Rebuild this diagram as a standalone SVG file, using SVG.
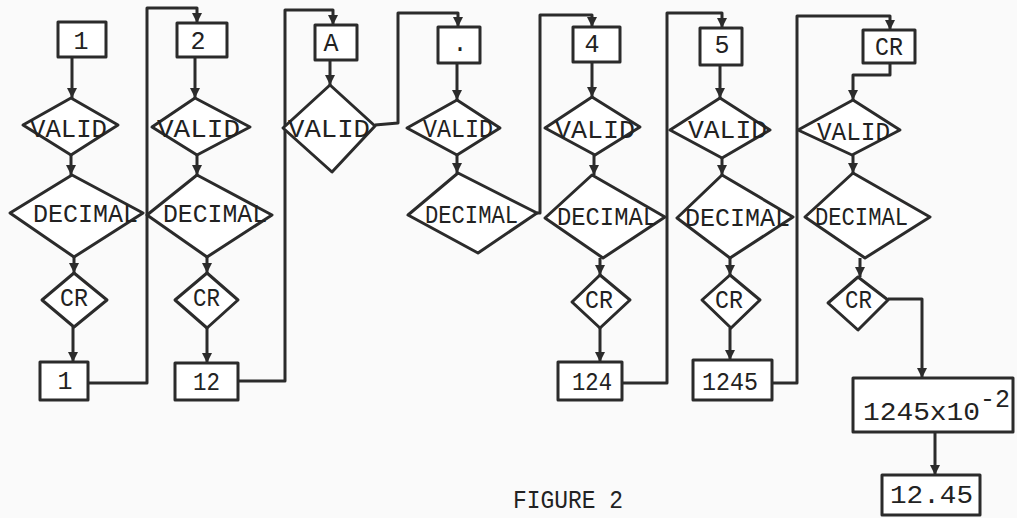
<svg xmlns="http://www.w3.org/2000/svg" width="1017" height="518" viewBox="0 0 1017 518">
<style>
.s{fill:#fff;stroke:#2b2b2b;stroke-width:3;stroke-linejoin:round}
.c{fill:none;stroke:#2b2b2b;stroke-width:3;stroke-linejoin:round}
text{font-family:"Liberation Mono","Courier New",monospace;fill:#222;font-size:25px}
.m{text-anchor:middle}
</style>
<defs>
<marker id="arr" viewBox="0 0 10 10" refX="10" refY="5" markerWidth="11" markerHeight="10" markerUnits="userSpaceOnUse" orient="auto">
<path d="M0,0 L10,5 L0,10 z" fill="#2b2b2b"/>
</marker>
</defs>
<rect width="1017" height="518" fill="#fafafa"/>

<g id="connectors">
<!-- column 1 -->
<path class="c" d="M72,57 V98" marker-end="url(#arr)"/>
<path class="c" d="M71,155 V175" marker-end="url(#arr)"/>
<path class="c" d="M74,257 V273" marker-end="url(#arr)"/>
<path class="c" d="M73,327 V362" marker-end="url(#arr)"/>
<path class="c" d="M88,383 H147 V8 H197 V23" marker-end="url(#arr)"/>
<!-- column 2 -->
<path class="c" d="M195,57 V98" marker-end="url(#arr)"/>
<path class="c" d="M197,155 V175" marker-end="url(#arr)"/>
<path class="c" d="M207,257 V273" marker-end="url(#arr)"/>
<path class="c" d="M207,328 V363" marker-end="url(#arr)"/>
<path class="c" d="M238,381 H285 V10 H333 V25" marker-end="url(#arr)"/>
<!-- column 3 -->
<path class="c" d="M330,60 V85" marker-end="url(#arr)"/>
<path class="c" d="M375,125 L398,123 V13 H458 V27" marker-end="url(#arr)"/>
<!-- column 4 -->
<path class="c" d="M457,63 V100" marker-end="url(#arr)"/>
<path class="c" d="M457,155 V173" marker-end="url(#arr)"/>
<path class="c" d="M537,213 H540 V15 H592 V27" marker-end="url(#arr)"/>
<!-- column 5 -->
<path class="c" d="M592,62 V97" marker-end="url(#arr)"/>
<path class="c" d="M594,155 V175" marker-end="url(#arr)"/>
<path class="c" d="M600,258 V275" marker-end="url(#arr)"/>
<path class="c" d="M600,328 V362" marker-end="url(#arr)"/>
<path class="c" d="M622,383 H667 V13 H722 V28" marker-end="url(#arr)"/>
<!-- column 6 -->
<path class="c" d="M720,65 V98" marker-end="url(#arr)"/>
<path class="c" d="M722,158 V175" marker-end="url(#arr)"/>
<path class="c" d="M730,258 V275" marker-end="url(#arr)"/>
<path class="c" d="M730,328 V360" marker-end="url(#arr)"/>
<path class="c" d="M772,383 H797 V16 H890 V30" marker-end="url(#arr)"/>
<!-- column 7 -->
<path class="c" d="M890,63 V75 H853 V100" marker-end="url(#arr)"/>
<path class="c" d="M853,155 V173" marker-end="url(#arr)"/>
<path class="c" d="M860,258 V277" marker-end="url(#arr)"/>
<path class="c" d="M888,299 H922 V378" marker-end="url(#arr)"/>
<path class="c" d="M935,432 V475" marker-end="url(#arr)"/>
</g>

<!-- column 1 -->
<g id="in1"><rect class="s" x="58" y="22" width="48" height="35"/><text class="m" x="81" y="49">1</text></g>
<g id="valid1"><polygon class="s" points="23,125 71,98 118,125 71,155"/><text x="30" y="137" textLength="77" lengthAdjust="spacingAndGlyphs">VALID</text></g>
<g id="decimal1"><polygon class="s" points="10,213 72,175 143,213 74,257"/><text x="33" y="222" textLength="105" lengthAdjust="spacingAndGlyphs">DECIMAL</text></g>
<g id="cr1"><polygon class="s" points="42,300 74,273 107,300 74,327"/><text x="60" y="306" textLength="28" lengthAdjust="spacingAndGlyphs">CR</text></g>
<g id="out1"><rect class="s" x="40" y="362" width="48" height="38"/><text class="m" x="65" y="389">1</text></g>

<!-- column 2 -->
<g id="in2"><rect class="s" x="177" y="23" width="50" height="34"/><text class="m" x="198" y="49">2</text></g>
<g id="valid2"><polygon class="s" points="152,127 195,98 250,127 197,155"/><text x="157" y="137" textLength="83" lengthAdjust="spacingAndGlyphs">VALID</text></g>
<g id="decimal2"><polygon class="s" points="147,215 197,175 272,215 207,257"/><text x="163" y="222" textLength="104" lengthAdjust="spacingAndGlyphs">DECIMAL</text></g>
<g id="cr2"><polygon class="s" points="175,300 207,273 238,300 207,328"/><text x="193" y="306" textLength="27" lengthAdjust="spacingAndGlyphs">CR</text></g>
<g id="out2"><rect class="s" x="175" y="363" width="63" height="37"/><text x="193" y="390" textLength="27" lengthAdjust="spacingAndGlyphs">12</text></g>

<!-- column 3 -->
<g id="in3"><rect class="s" x="315" y="25" width="42" height="35"/><text class="m" x="331" y="51">A</text></g>
<g id="valid3"><polygon class="s" points="283,128 330,85 375,126 332,172"/><text x="288" y="137" textLength="82" lengthAdjust="spacingAndGlyphs">VALID</text></g>

<!-- column 4 -->
<g id="in4"><rect class="s" x="438" y="27" width="42" height="36"/><text class="m" x="460" y="51">.</text></g>
<g id="valid4"><polygon class="s" points="407,128 457,100 500,128 457,155"/><text x="423" y="137" textLength="70" lengthAdjust="spacingAndGlyphs">VALID</text></g>
<g id="decimal4"><polygon class="s" points="408,215 458,173 537,213 478,253"/><text x="425" y="223" textLength="93" lengthAdjust="spacingAndGlyphs">DECIMAL</text></g>

<!-- column 5 -->
<g id="in5"><rect class="s" x="573" y="27" width="47" height="35"/><text class="m" x="592" y="52">4</text></g>
<g id="valid5"><polygon class="s" points="545,128 592,97 640,127 595,155"/><text x="555" y="138" textLength="80" lengthAdjust="spacingAndGlyphs">VALID</text></g>
<g id="decimal5"><polygon class="s" points="545,218 592,175 665,217 603,258"/><text x="557" y="225" textLength="100" lengthAdjust="spacingAndGlyphs">DECIMAL</text></g>
<g id="cr5"><polygon class="s" points="572,302 600,275 630,300 600,328"/><text x="585" y="308" textLength="28" lengthAdjust="spacingAndGlyphs">CR</text></g>
<g id="out5"><rect class="s" x="558" y="362" width="64" height="38"/><text x="572" y="390" textLength="40" lengthAdjust="spacingAndGlyphs">124</text></g>

<!-- column 6 -->
<g id="in6"><rect class="s" x="700" y="28" width="42" height="37"/><text class="m" x="722" y="53">5</text></g>
<g id="valid6"><polygon class="s" points="670,130 720,98 770,130 722,158"/><text x="688" y="138" textLength="79" lengthAdjust="spacingAndGlyphs">VALID</text></g>
<g id="decimal6"><polygon class="s" points="677,218 722,175 793,217 730,258"/><text x="685" y="226" textLength="105" lengthAdjust="spacingAndGlyphs">DECIMAL</text></g>
<g id="cr6"><polygon class="s" points="702,300 730,275 760,300 731,328"/><text x="715" y="308" textLength="28" lengthAdjust="spacingAndGlyphs">CR</text></g>
<g id="out6"><rect class="s" x="693" y="360" width="79" height="40"/><text x="702" y="390" textLength="56" lengthAdjust="spacingAndGlyphs">1245</text></g>

<!-- column 7 -->
<g id="in7"><rect class="s" x="863" y="30" width="52" height="33"/><text x="875" y="55" textLength="28" lengthAdjust="spacingAndGlyphs">CR</text></g>
<g id="valid7"><polygon class="s" points="798,130 853,100 900,130 852,155"/><text x="817" y="140" textLength="73" lengthAdjust="spacingAndGlyphs">VALID</text></g>
<g id="decimal7"><polygon class="s" points="805,217 853,173 930,217 865,258"/><text x="815" y="225" textLength="93" lengthAdjust="spacingAndGlyphs">DECIMAL</text></g>
<g id="cr7"><polygon class="s" points="828,303 858,277 888,300 858,330"/><text x="845" y="308" textLength="27" lengthAdjust="spacingAndGlyphs">CR</text></g>
<g id="scaled"><rect class="s" x="853" y="378" width="160" height="54"/><text x="863" y="420" textLength="117" lengthAdjust="spacingAndGlyphs">1245x10</text><text x="980" y="407" textLength="30" lengthAdjust="spacingAndGlyphs">-2</text></g>
<g id="result"><rect class="s" x="882" y="475" width="98" height="40"/><text x="890" y="503" textLength="83" lengthAdjust="spacingAndGlyphs">12.45</text></g>

<text id="caption" x="513" y="508" font-size="20" textLength="110" lengthAdjust="spacingAndGlyphs">FIGURE 2</text>
</svg>
